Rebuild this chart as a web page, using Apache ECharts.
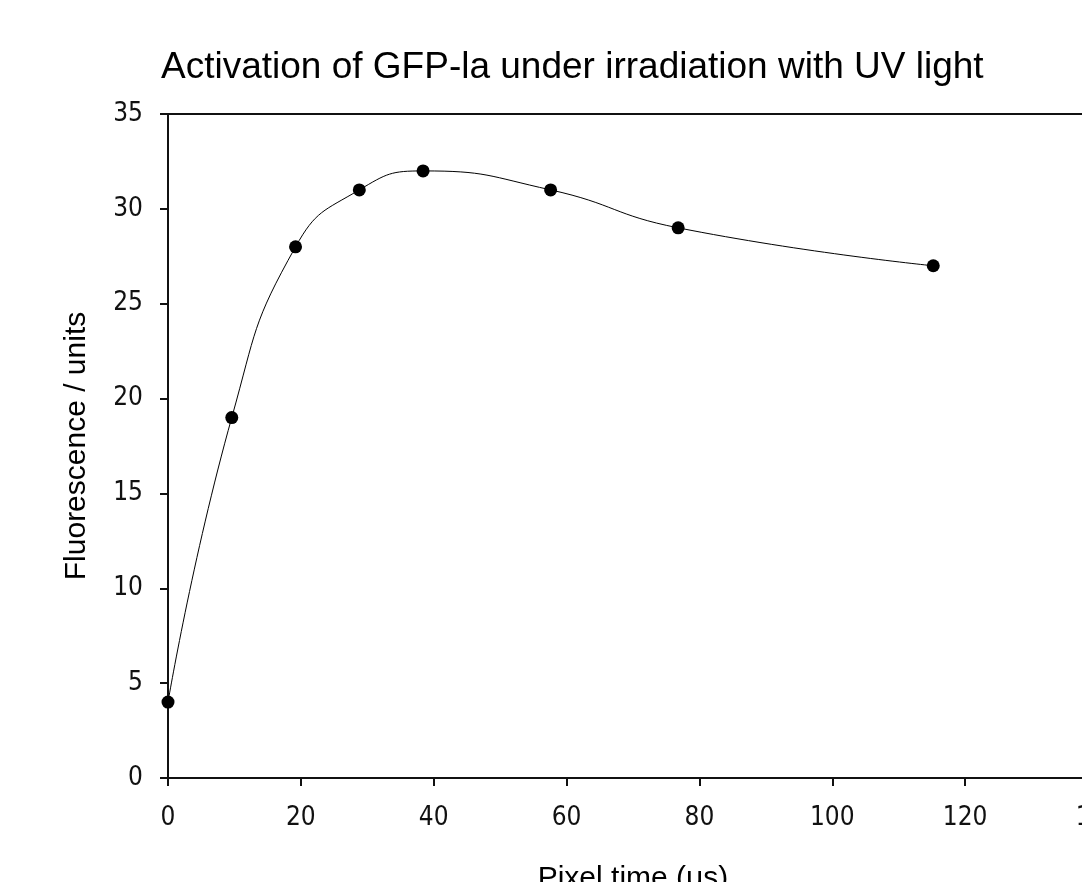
<!DOCTYPE html>
<html>
<head>
<meta charset="utf-8">
<script src="https://cdn.jsdelivr.net/npm/echarts@6/dist/echarts.min.js"></script>
<style>
  html, body { margin: 0; padding: 0; background: #fff; }
  #chart { width: 1082px; height: 882px; }
</style>
</head>
<body>
<div id="chart"></div>
<script>
// pixel time (µs) and fluorescence
var pixelTime = [0, 9.6, 19.2, 28.8, 38.4, 57.6, 76.8, 115.2];
var fluorescence = [4, 19, 28, 31, 32, 31, 29, 27];

var titleText = 'Activation of GFP-la under irradiation with UV light';
var xName = 'Pixel time (\u03bcs)';
var yName = 'Fluorescence / units';

var tickFont = "'DejaVu Sans Condensed', 'Liberation Sans', sans-serif";

var points = pixelTime.map(function (t, i) { return [t, fluorescence[i]]; });

var chart = echarts.init(document.getElementById('chart'));
chart.setOption({
    animation: false,
    backgroundColor: '#fff',
    title: {
        text: titleText,
        left: 156,
        top: 44,
        textStyle: {
            fontFamily: 'Liberation Sans',
            fontSize: 37,
            fontWeight: 'normal',
            color: '#000'
        }
    },
    grid: {
        left: 168,
        top: 114,
        right: -16,
        bottom: 104,
        outerBoundsMode: 'none',
        containLabel: false,
        show: true,
        borderColor: '#111',
        borderWidth: 2
    },
    xAxis: {
        type: 'value',
        min: 0,
        max: 140,
        interval: 20,
        name: xName,
        nameLocation: 'middle',
        nameGap: 86,
        nameTextStyle: { fontFamily: 'Liberation Sans', fontSize: 30, color: '#000' },
        axisLine: { lineStyle: { color: '#111', width: 2 } },
        axisTick: { inside: false, length: 8, lineStyle: { color: '#111', width: 2 } },
        axisLabel: { margin: 27, fontFamily: tickFont, fontSize: 26, color: '#111' },
        splitLine: { show: false }
    },
    yAxis: {
        type: 'value',
        min: 0,
        max: 35,
        interval: 5,
        name: yName,
        nameLocation: 'middle',
        nameGap: 76,
        nameTextStyle: { fontFamily: 'Liberation Sans', fontSize: 30, color: '#000' },
        axisLine: { show: true, lineStyle: { color: '#111', width: 2 } },
        axisTick: { show: true, inside: false, length: 8, lineStyle: { color: '#111', width: 2 } },
        axisLabel: { margin: 25, fontFamily: tickFont, fontSize: 26, color: '#111' },
        splitLine: { show: false }
    },
    series: [{
        type: 'line',
        data: points,
        smooth: true,
        symbol: 'circle',
        symbolSize: 13,
        itemStyle: { color: '#000' },
        lineStyle: { color: '#000', width: 1 }
    }]
});
</script>
</body>
</html>
